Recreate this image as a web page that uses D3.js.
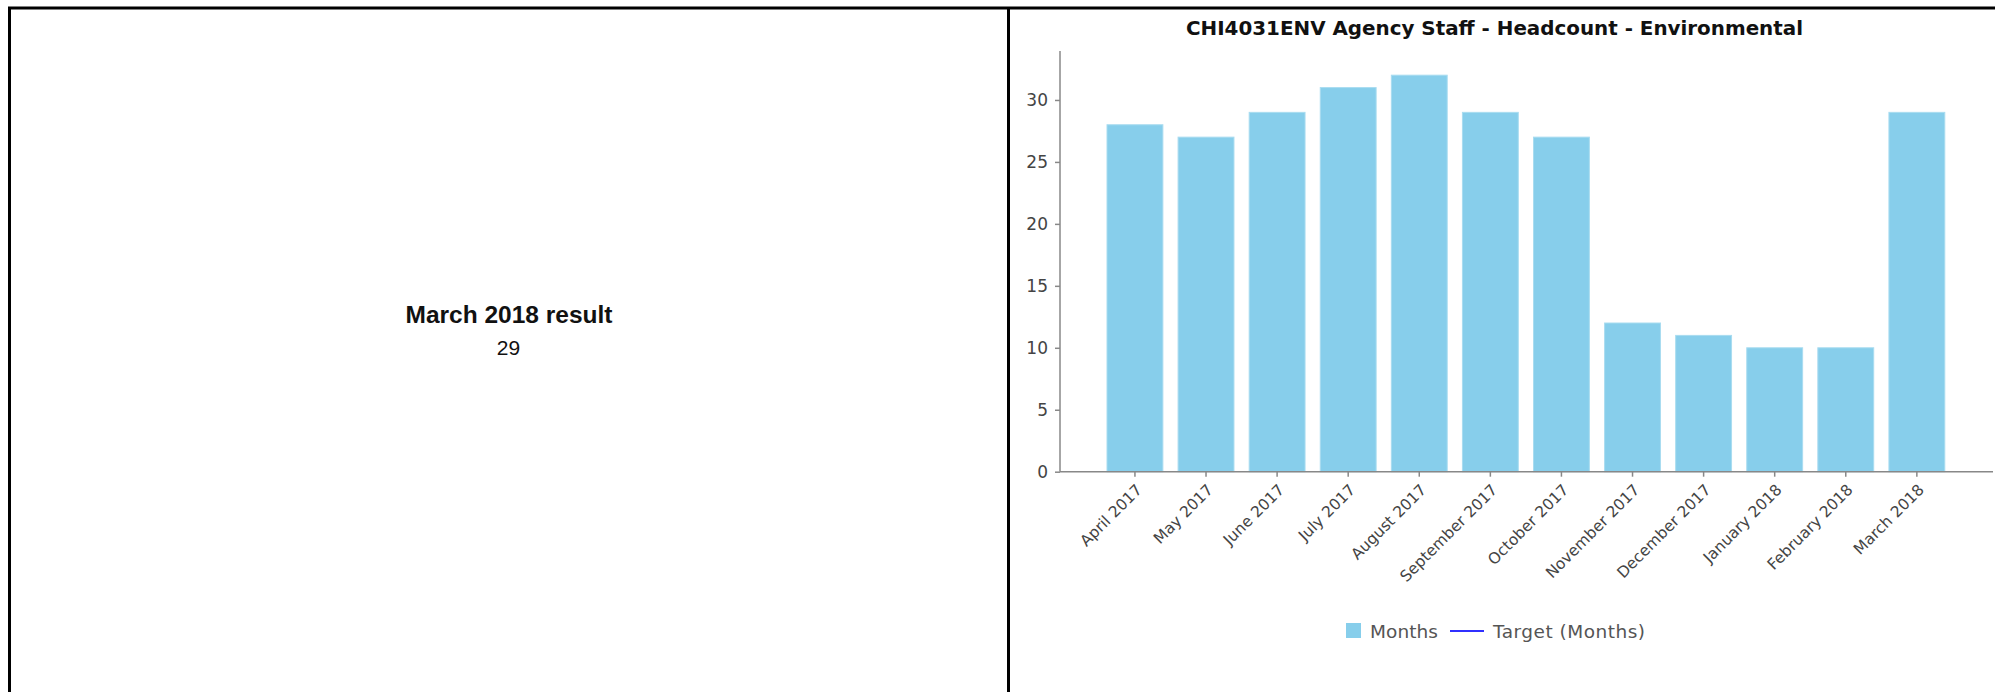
<!DOCTYPE html>
<html>
<head>
<meta charset="utf-8">
<script src="https://cdn.jsdelivr.net/npm/d3@7"></script>
<style>
  html, body { margin: 0; padding: 0; background: #fff; }
  svg { display: block; }
</style>
</head>
<body>
<svg id="chart" width="1995" height="692"></svg>
<script>
// Monthly agency staff headcount, April 2017 – March 2018
const months = ["April 2017", "May 2017", "June 2017", "July 2017", "August 2017",
  "September 2017", "October 2017", "November 2017", "December 2017",
  "January 2018", "February 2018", "March 2018"];
const headcount = [28, 27, 29, 31, 32, 29, 27, 12, 11, 10, 10, 29];
const yTicks = [0, 5, 10, 15, 20, 25, 30];
const yMax = 34;
const chartTitle = "CHI4031ENV Agency Staff - Headcount - Environmental";
const resultLabel = "March 2018 result";
const resultValue = headcount[headcount.length - 1];
const legendItems = ["Months", "Target (Months)"];

const svg = d3.select("#chart");
const W = 1995, H = 692;

// Panel frame
const frame = svg.append("g").attr("stroke", "#000").attr("stroke-width", 3);
frame.append("line").attr("x1", 8).attr("x2", W).attr("y1", 8).attr("y2", 8);
frame.append("line").attr("x1", 9.5).attr("x2", 9.5).attr("y1", 7).attr("y2", H);
frame.append("line").attr("x1", 1008.5).attr("x2", 1008.5).attr("y1", 7).attr("y2", H);

// Left panel: latest result
const left = svg.append("g").attr("font-family", "'Liberation Sans', Arial, sans-serif").attr("fill", "#111");
left.append("text").attr("x", 509).attr("y", 323).attr("text-anchor", "middle")
  .attr("font-size", 24.5).attr("font-weight", "bold").text(resultLabel);
left.append("text").attr("x", 508.5).attr("y", 355).attr("text-anchor", "middle")
  .attr("font-size", 21).text(resultValue);

// Right panel: bar chart
const plot = { left: 1060, right: 1993, top: 50, bottom: 471.7 };
const x = d3.scaleBand().domain(months)
  .range([plot.left + 39.4, plot.right - 40.6])
  .paddingInner(0.214).paddingOuter(0.107);
const y = d3.scaleLinear().domain([0, yMax]).range([plot.bottom, plot.top + 0.4]);

const font = "'DejaVu Sans', Verdana, sans-serif";

svg.append("text").attr("x", 1494.5).attr("y", 35).attr("text-anchor", "middle")
  .attr("font-family", font).attr("font-weight", "bold").attr("font-size", 19.5)
  .attr("fill", "#111").attr("textLength", 617).attr("lengthAdjust", "spacingAndGlyphs")
  .text(chartTitle);

svg.append("g").selectAll("rect").data(headcount).join("rect")
  .attr("x", (d, i) => x(months[i]))
  .attr("width", x.bandwidth())
  .attr("y", d => y(d))
  .attr("height", d => y(0) - y(d))
  .attr("fill", "#87ceeb")
  .attr("stroke", "#a9dcf0")
  .attr("stroke-width", 1);

// Y axis
const yAxis = svg.append("g").attr("transform", `translate(${plot.left},0)`)
  .call(d3.axisLeft(y).tickValues(yTicks).tickSize(5).tickPadding(7));
yAxis.select(".domain").attr("d", `M0,${plot.top + 1}V${plot.bottom}`);

// X axis
const xAxis = svg.append("g").attr("transform", `translate(0,${plot.bottom})`)
  .call(d3.axisBottom(x).tickSize(5).tickSizeOuter(0));
xAxis.select(".domain").attr("d", `M${plot.left},0H${plot.right}`);
xAxis.selectAll(".tick text")
  .attr("text-anchor", "end")
  .attr("dy", null)
  .attr("y", null)
  .attr("transform", "translate(8,19) rotate(-45)");

[yAxis, xAxis].forEach(a => {
  a.selectAll(".domain, .tick line").attr("stroke", "#888").attr("stroke-width", 1.5);
  a.selectAll("text").attr("font-family", font).attr("fill", "#444");
});
yAxis.selectAll("text").attr("font-size", 17);
xAxis.selectAll("text").attr("font-size", 15.5);

// Legend
const legend = svg.append("g").attr("font-family", font).attr("font-size", 18.5).attr("fill", "#555");
legend.append("rect").attr("x", 1346).attr("y", 623).attr("width", 15).attr("height", 15).attr("fill", "#87ceeb");
legend.append("text").attr("x", 1370).attr("y", 638).attr("textLength", 68).text(legendItems[0]);
legend.append("line").attr("x1", 1450).attr("x2", 1484).attr("y1", 631).attr("y2", 631)
  .attr("stroke", "#3030ff").attr("stroke-width", 2);
legend.append("text").attr("x", 1493).attr("y", 638).attr("textLength", 152).text(legendItems[1]);
</script>
</body>
</html>
